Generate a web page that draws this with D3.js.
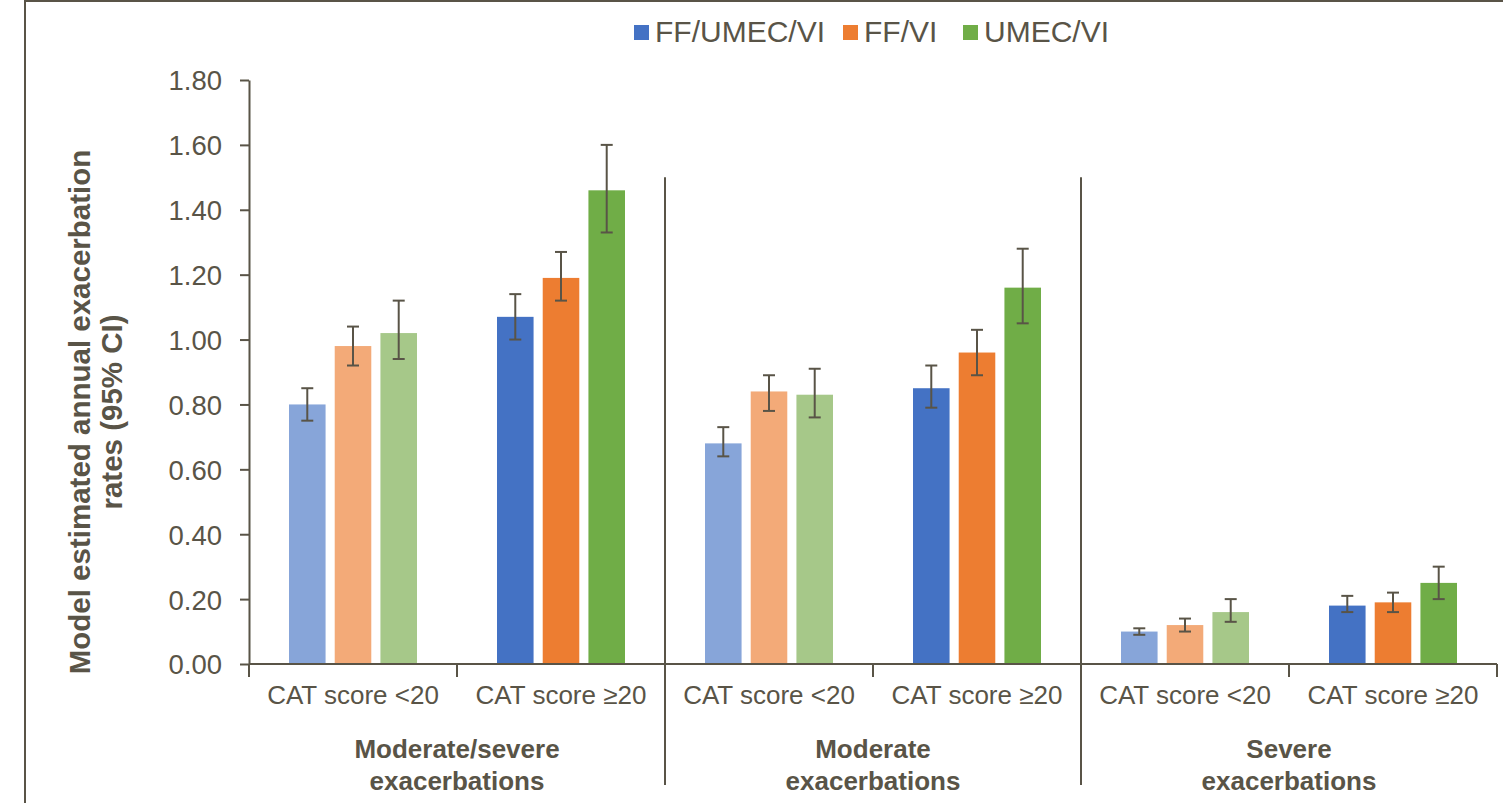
<!DOCTYPE html>
<html>
<head>
<meta charset="utf-8">
<script src="https://cdn.jsdelivr.net/npm/d3@7"></script>
<style>
  body { margin: 0; background: #fff; }
  text { font-family: "Liberation Sans", Arial, sans-serif; fill: #595447; }
</style>
</head>
<body>
<div id="chart"></div>
<script>
// data
const series = ['FF/UMEC/VI', 'FF/VI', 'UMEC/VI'];
const groups = ['Moderate/severe|exacerbations', 'Moderate|exacerbations', 'Severe|exacerbations'];
const subCats = ['CAT score <20', 'CAT score \u226520'];
const yTicks = [0, 0.2, 0.4, 0.6, 0.8, 1.0, 1.2, 1.4, 1.6, 1.8];

// one row per category (group x CAT), values per series
const rates = [
  [0.80, 0.98, 1.02],
  [1.07, 1.19, 1.46],
  [0.68, 0.84, 0.83],
  [0.85, 0.96, 1.16],
  [0.10, 0.12, 0.16],
  [0.18, 0.19, 0.25]
];
const lower = [
  [0.75, 0.92, 0.94],
  [1.00, 1.12, 1.33],
  [0.64, 0.78, 0.76],
  [0.79, 0.89, 1.05],
  [0.09, 0.10, 0.13],
  [0.16, 0.16, 0.20]
];
const upper = [
  [0.85, 1.04, 1.12],
  [1.14, 1.27, 1.60],
  [0.73, 0.89, 0.91],
  [0.92, 1.03, 1.28],
  [0.11, 0.14, 0.20],
  [0.21, 0.22, 0.30]
];

const darkColors = ['#4472C4', '#ED7D31', '#70AD47'];
const lightColors = ['#87A5D9', '#F3AA78', '#A6C889'];
const ink = '#595447';

const W = 1503, H = 803;
const margin = { top: 80, right: 6, bottom: 139, left: 249 };
const width = W - margin.left - margin.right;
const height = H - margin.top - margin.bottom;

const svg = d3.select('#chart').append('svg')
  .attr('width', W).attr('height', H);

// outer frame (top and left edges visible)
svg.append('line').attr('x1', 25).attr('x2', W).attr('y1', 1).attr('y2', 1)
  .attr('stroke', ink).attr('stroke-width', 2);
svg.append('line').attr('x1', 25).attr('x2', 25).attr('y1', 0).attr('y2', H)
  .attr('stroke', ink).attr('stroke-width', 2);

const g = svg.append('g').attr('transform', `translate(${margin.left},${margin.top})`);

const catKeys = d3.range(rates.length);
const x = d3.scaleBand().domain(catKeys).range([0, width]).paddingInner(0).paddingOuter(0);
const xs = d3.scaleBand().domain(d3.range(series.length)).range([40, x.bandwidth() - 40]).paddingInner(0.2);
const y = d3.scaleLinear().domain([0, 1.8]).range([height, 0]);

// y axis
const yAxis = g.append('g')
  .call(d3.axisLeft(y).tickValues(yTicks).tickFormat(d3.format('.2f')).tickSizeInner(9).tickSizeOuter(0));
yAxis.select('.domain').attr('stroke', ink).attr('stroke-width', 2);
yAxis.selectAll('.tick line').attr('stroke', ink).attr('stroke-width', 2);
yAxis.selectAll('.tick text').attr('x', -27).attr('dy', '0.36em').attr('font-size', 27.5).style('fill', ink)
  .attr('font-family', '"Liberation Sans", Arial, sans-serif');

// bars
const cat = g.selectAll('.cat').data(catKeys).enter().append('g')
  .attr('transform', d => `translate(${x(d)},0)`);

cat.each(function (ci) {
  const sel = d3.select(this);
  const colors = ci % 2 === 0 ? lightColors : darkColors;
  series.forEach((s, si) => {
    sel.append('rect')
      .attr('x', xs(si))
      .attr('y', y(rates[ci][si]))
      .attr('width', xs.bandwidth())
      .attr('height', height - y(rates[ci][si]))
      .attr('fill', colors[si]);
    const cx = xs(si) + xs.bandwidth() / 2;
    const eb = sel.append('g').attr('stroke', ink).attr('stroke-width', 2);
    eb.append('line').attr('x1', cx).attr('x2', cx)
      .attr('y1', y(upper[ci][si])).attr('y2', y(lower[ci][si]));
    [upper[ci][si], lower[ci][si]].forEach(v => {
      eb.append('line').attr('x1', cx - 6).attr('x2', cx + 6)
        .attr('y1', y(v)).attr('y2', y(v));
    });
  });
});

// x axis line and category ticks
g.append('line').attr('x1', 0).attr('x2', width).attr('y1', height).attr('y2', height)
  .attr('stroke', ink).attr('stroke-width', 2);
d3.range(rates.length + 1).forEach(i => {
  const xx = i < rates.length ? x(i) : width;
  const long = i === 2 || i === 4;
  g.append('line').attr('x1', xx).attr('x2', xx)
    .attr('y1', long ? y(1.5) : height).attr('y2', long ? H - margin.top - 18 : height + 13)
    .attr('stroke', ink).attr('stroke-width', 2);
});

// sub-category labels
catKeys.forEach(ci => {
  g.append('text')
    .attr('x', x(ci) + x.bandwidth() / 2).attr('y', height + 40)
    .attr('text-anchor', 'middle').attr('font-size', 26)
    .text(subCats[ci % 2]);
});

// group labels
groups.forEach((grp, gi) => {
  const cx = x(gi * 2) + x.bandwidth();
  grp.split('|').forEach((line, li) => {
    g.append('text')
      .attr('x', cx).attr('y', height + 94 + li * 32)
      .attr('text-anchor', 'middle').attr('font-size', 26).attr('font-weight', 'bold')
      .text(line);
  });
});

// y title
const yt = svg.append('text')
  .attr('transform', 'translate(90,412) rotate(-90)')
  .attr('text-anchor', 'middle').attr('font-size', 29.5).attr('font-weight', 'bold');
yt.append('tspan').attr('x', 0).attr('dy', 0).text('Model estimated annual exacerbation');
yt.append('tspan').attr('x', 0).attr('dy', 32).text('rates (95% CI)');

// legend
const legendX = [634, 843, 963];
series.forEach((s, i) => {
  svg.append('rect').attr('x', legendX[i]).attr('y', 25).attr('width', 15).attr('height', 15)
    .attr('fill', darkColors[i]);
  svg.append('text').attr('x', legendX[i] + 21).attr('y', 42)
    .attr('font-size', 30).text(s);
});
</script>
</body>
</html>
